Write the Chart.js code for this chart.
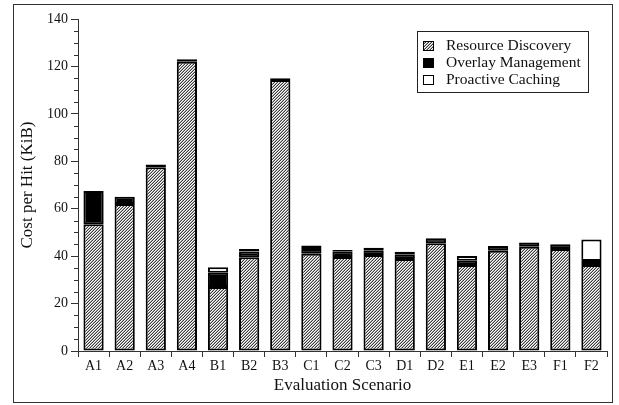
<!DOCTYPE html>
<html>
<head>
<meta charset="utf-8">
<script src="https://cdn.jsdelivr.net/npm/chart.js@4/dist/chart.umd.min.js"></script>
<style>
  html, body { margin: 0; padding: 0; background: #fff; }
  #wrap { width: 619px; height: 405px; }
</style>
</head>
<body>
<div id="wrap"><canvas id="c" width="619" height="405"></canvas></div>
<script>
// Evaluation scenarios along the x axis
const scenarios = ['A1', 'A2', 'A3', 'A4', 'B1', 'B2', 'B3', 'C1', 'C2', 'C3', 'D1', 'D2', 'E1', 'E2', 'E3', 'F1', 'F2'];

// Cost per hit (KiB), split by component
const resourceDiscovery = [53.5, 62, 77.5, 122, 27, 39.5, 114.3, 41, 39.6, 40.5, 38.8, 45.4, 36.3, 42.3, 44, 43, 36.3];
const overlayManagement = [14, 3, 1.1, 1, 6, 2.5, 0.7, 2, 2.5, 2, 2, 2.1, 1.8, 2, 1.8, 2, 1.7];
const proactiveCaching  = [0, 0, 0, 0, 2.3, 1, 0, 1.5, 0.5, 1, 1, 0, 2, 0, 0, 0, 9];

const seriesNames = ['Resource Discovery', 'Overlay Management', 'Proactive Caching'];
const yTickValues = [0, 20, 40, 60, 80, 100, 120, 140];

const SERIF = '"Liberation Serif", "DejaVu Serif", serif';

// Fine diagonal hatch used for the resource discovery segments
function makeHatch() {
  const s = 3;
  const cv = document.createElement('canvas');
  cv.width = s; cv.height = s;
  const g = cv.getContext('2d');
  g.fillStyle = '#fff';
  g.fillRect(0, 0, s, s);
  g.fillStyle = '#3a3a3a';
  for (let i = 0; i < s; i++) g.fillRect(i, s - 1 - i, 1, 1);
  g.fillStyle = '#b0b0b0';
  for (let i = 0; i < s; i++) g.fillRect(i, (2 * s - 2 - i) % s, 1, 1);
  return g.createPattern(cv, 'repeat');
}
const hatch = makeHatch();

const fills = [hatch, '#000', '#fff'];

// Outer frame around the whole figure
const framePlugin = {
  id: 'frame',
  beforeDraw(chart) {
    const ctx = chart.ctx;
    ctx.save();
    ctx.fillStyle = '#fff';
    ctx.fillRect(0, 0, chart.width, chart.height);
    ctx.strokeStyle = '#333';
    ctx.lineWidth = 1;
    ctx.strokeRect(13.5, 4.5, 599, 398);
    ctx.restore();
  }
};

// Short minor ticks every 5 KiB on the y axis
const minorTicksPlugin = {
  id: 'minorTicks',
  afterDraw(chart) {
    const y = chart.scales.y;
    const ctx = chart.ctx;
    const x0 = chart.chartArea.left;
    ctx.save();
    ctx.strokeStyle = '#333';
    ctx.lineWidth = 1;
    ctx.beginPath();
    for (let v = y.min + 5; v < y.max; v += 5) {
      if (v % 20 === 0) continue;
      const py = Math.round(y.getPixelForValue(v)) + 0.5;
      ctx.moveTo(x0 - 4, py);
      ctx.lineTo(x0, py);
    }
    ctx.stroke();
    ctx.restore();
  }
};

// Boxed legend in the upper right of the plot
const boxLegendPlugin = {
  id: 'boxLegend',
  afterDraw(chart) {
    const ctx = chart.ctx;
    const bx = 417, by = 31, bw = 171, bh = 61;
    ctx.save();
    ctx.fillStyle = '#fff';
    ctx.fillRect(bx, by, bw, bh);
    ctx.strokeStyle = '#222';
    ctx.lineWidth = 1;
    ctx.strokeRect(bx + 0.5, by + 0.5, bw, bh);
    ctx.font = '15.5px ' + SERIF;
    ctx.textBaseline = 'middle';
    chart.data.datasets.forEach((ds, i) => {
      const cy = 45.5 + i * 17;
      ctx.fillStyle = ds.backgroundColor;
      ctx.fillRect(423, cy - 4.5, 10, 9);
      ctx.strokeStyle = '#000';
      ctx.strokeRect(423.5, cy - 4, 10, 9);
      ctx.fillStyle = '#111';
      ctx.fillText(ds.label, 446, cy + 0.5);
    });
    ctx.restore();
  }
};

const barCommon = {
  borderColor: '#000',
  borderWidth: 2,
  borderSkipped: false,
  barPercentage: 0.65,
  categoryPercentage: 1.0
};

new Chart(document.getElementById('c'), {
  type: 'bar',
  data: {
    labels: scenarios,
    datasets: [
      Object.assign({ label: seriesNames[0], data: resourceDiscovery, backgroundColor: fills[0] }, barCommon),
      Object.assign({ label: seriesNames[1], data: overlayManagement, backgroundColor: fills[1] }, barCommon),
      Object.assign({ label: seriesNames[2], data: proactiveCaching, backgroundColor: fills[2] }, barCommon)
    ]
  },
  options: {
    responsive: false,
    devicePixelRatio: 1,
    animation: false,
    layout: { padding: { left: 0, right: 12, top: 19, bottom: 0 } },
    plugins: { legend: { display: false }, tooltip: { enabled: false } },
    scales: {
      x: {
        stacked: true,
        grid: { offset: true, drawOnChartArea: false, tickLength: 6, color: '#333' },
        border: { color: '#333', width: 1 },
        ticks: { color: '#111', font: { family: SERIF, size: 14 }, padding: 1, maxRotation: 0 },
        title: { display: true, text: 'Evaluation Scenario', color: '#111', font: { family: SERIF, size: 17 }, padding: { top: 0, bottom: 9 } },
        afterFit(s) { s.height = 54; }
      },
      y: {
        stacked: true,
        min: 0,
        max: 140,
        afterBuildTicks(s) { s.ticks = yTickValues.map(v => ({ value: v })); },
        grid: { drawOnChartArea: false, tickLength: 7, color: '#333' },
        border: { color: '#333', width: 1 },
        ticks: { color: '#111', font: { family: SERIF, size: 14 }, padding: 3 },
        title: { display: true, text: 'Cost per Hit (KiB)', color: '#111', font: { family: SERIF, size: 17 }, padding: { top: 17, bottom: 0 } },
        afterFit(s) { s.width = 78; }
      }
    }
  },
  plugins: [framePlugin, minorTicksPlugin, boxLegendPlugin]
});
</script>
</body>
</html>
